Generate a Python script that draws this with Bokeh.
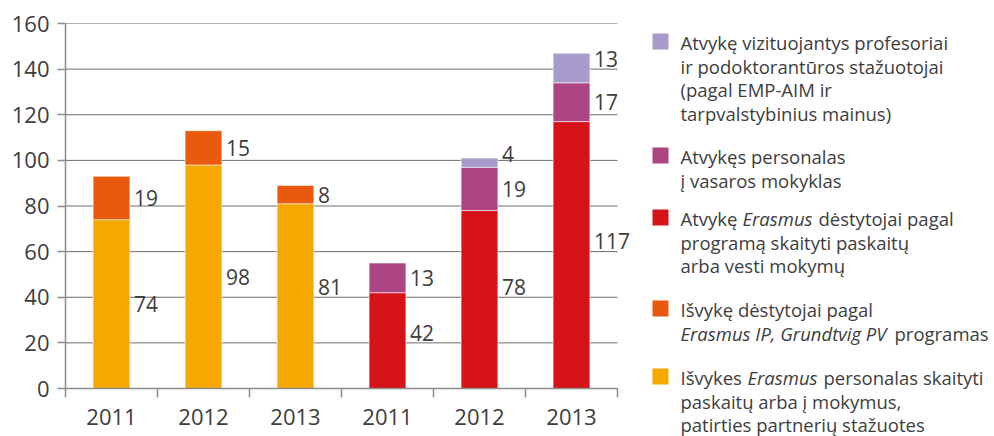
from bokeh.plotting import figure
from bokeh.models import (Range1d, FixedTicker, CustomJSTickFormatter,
                          ColumnDataSource, Label)
from bokeh.layouts import row
from bokeh.embed import file_html
from bokeh.resources import INLINE

# ---------------- data ----------------
years = ["2011", "2012", "2013", "2011", "2012", "2013"]
out_erasmus = [74, 98, 81, 0, 0, 0]      # Išvykes Erasmus personalas
out_ip = [19, 15, 8, 0, 0, 0]            # Išvykę dėstytojai IP / Grundtvig
in_erasmus = [0, 0, 0, 42, 78, 117]      # Atvykę Erasmus dėstytojai
in_summer = [0, 0, 0, 13, 19, 17]        # Atvykęs personalas į vasaros mokyklas
in_visiting = [0, 0, 0, 0, 4, 13]        # Atvykę vizituojantys profesoriai
y_ticks = [0, 20, 40, 60, 80, 100, 120, 140, 160]

series = [
    (out_erasmus, "#F6A700"),
    (out_ip, "#E95A0E"),
    (in_erasmus, "#D71219"),
    (in_summer, "#AD4582"),
    (in_visiting, "#A69BCB"),
]

# legend: colour, lines; each line = list of (text, italic, x offset of the run)
legend_blocks = [
    ("#A69BCB", [[("Atvykę vizituojantys profesoriai", False, 0)],
                 [("ir podoktorantūros stažuotojai", False, 0)],
                 [("(pagal EMP-AIM ir", False, 0)],
                 [("tarpvalstybinius mainus)", False, 0)]]),
    ("#AD4582", [[("Atvykęs personalas", False, 0)],
                 [("į vasaros mokyklas", False, 0)]]),
    ("#D71219", [[("Atvykę", False, 0), ("Erasmus", True, 62), ("dėstytojai pagal", False, 138)],
                 [("programą skaityti paskaitų", False, 0)],
                 [("arba vesti mokymų", False, 0)]]),
    ("#E95A0E", [[("Išvykę dėstytojai pagal", False, 0)],
                 [("Erasmus IP, Grundtvig PV", True, 0), ("programas", False, 214)]]),
    ("#F6A700", [[("Išvykes", False, 0), ("Erasmus", True, 67), ("personalas skaityti", False, 143)],
                 [("paskaitų arba į mokymus,", False, 0)],
                 [("patirties partnerių stažuotes", False, 0)]]),
]
legend_first_line_y = [42, 156, 218, 309, 377]
legend_line_step = 23.5

TXT = "#3d3d3d"
AX = "#8c8c8c"
FONT = "Open Sans"

W, H = 994, 436
MAIN_W = 640
N = len(years)
X_END = N + (MAIN_W - 617) / 92.0   # a little room right of the last category

# ---------------- main chart ----------------
p = figure(width=MAIN_W, height=H, output_backend="svg", toolbar_location=None,
           x_range=Range1d(0, X_END), y_range=Range1d(0, 160),
           min_border_left=65, min_border_right=0, min_border_top=23,
           min_border_bottom=H - 388)
p.outline_line_color = None
p.background_fill_color = "white"
p.border_fill_color = "white"

# horizontal grid lines across the category area only
p.segment(x0=[0] * len(y_ticks), x1=[N] * len(y_ticks), y0=y_ticks, y1=y_ticks,
          line_color="#6a6a6a", line_width=1)

centers = [i + 0.5 for i in range(N)]
bottom = [0] * N
for vals, color in series:
    idx = [i for i, v in enumerate(vals) if v > 0]
    src = ColumnDataSource(dict(
        x=[centers[i] for i in idx],
        b=[bottom[i] for i in idx],
        t=[bottom[i] + vals[i] for i in idx]))
    p.vbar(x="x", bottom="b", top="t", width=0.4, source=src,
           fill_color=color, line_color="white", line_alpha=0.55, line_width=1)
    for i in idx:
        v = vals[i]
        if v < 6:
            ly = bottom[i] + v + 2          # tiny segment: label just above it
        else:
            ly = bottom[i] + v / 2
            for g in y_ticks:               # keep labels off the grid lines
                if abs(ly - g) <= 2:
                    ly = g + 4.5
        p.add_layout(Label(x=centers[i] + 0.2, y=ly,
                           text=str(v), x_offset=4,
                           text_font=FONT, text_font_size="21px",
                           text_color=TXT, text_baseline="middle", text_align="left"))
        bottom[i] += v

# axes
p.xaxis.bounds = (0, N)
p.xaxis.ticker = FixedTicker(ticks=centers, minor_ticks=list(range(N + 1)))
p.xaxis.formatter = CustomJSTickFormatter(args=dict(labels=years),
                                          code="return labels[Math.floor(tick)];")
p.xaxis.major_tick_out = 0
p.xaxis.major_tick_in = 0
p.xaxis.minor_tick_out = 9
p.xaxis.minor_tick_in = 0
p.xaxis.minor_tick_line_color = AX
p.xaxis.minor_tick_line_width = 1.5
p.xaxis.major_label_standoff = 11

p.yaxis.ticker = FixedTicker(ticks=y_ticks)
p.yaxis.major_tick_out = 8
p.yaxis.major_tick_in = 0
p.yaxis.minor_tick_line_color = None
p.yaxis.major_tick_line_color = AX
p.yaxis.major_tick_line_width = 1.5
p.yaxis.major_label_standoff = 8

for ax in (p.xaxis, p.yaxis):
    ax.axis_line_color = AX
    ax.axis_line_width = 1.5
    ax.major_label_text_font = FONT
    ax.major_label_text_font_size = "22px"
    ax.major_label_text_color = TXT

p.xgrid.visible = False
p.ygrid.visible = False

# ---------------- legend (separate panel, data units = pixels) ----------------
LW = W - MAIN_W
lg = figure(width=LW, height=H, output_backend="svg", toolbar_location=None,
            x_range=Range1d(0, LW), y_range=Range1d(H, 0),
            x_axis_location=None, y_axis_location=None,
            min_border_left=0, min_border_right=0,
            min_border_top=0, min_border_bottom=0)
lg.frame_align = False
lg.outline_line_color = None
lg.grid.visible = False
lg.border_fill_color = "white"
lg.background_fill_color = "white"

sq_x, sq_y, sq_c = [], [], []
TX = 40
for (color, lines), y0 in zip(legend_blocks, legend_first_line_y):
    sq_x.append(20)
    sq_y.append(y0 - 1)
    sq_c.append(color)
    for k, runs in enumerate(lines):
        y = y0 + k * legend_line_step
        for text, italic, dx in runs:
            lg.add_layout(Label(x=TX + dx, y=y, text=text,
                                text_font=FONT, text_font_size="18.5px",
                                text_font_style="italic" if italic else "normal",
                                text_color=TXT, text_baseline="middle",
                                text_align="left"))

lg.rect(x=sq_x, y=sq_y, width=16, height=16, fill_color=sq_c, line_color=None)

layout = row(p, lg, spacing=0)
open("out.html", "w").write(file_html(layout, INLINE))
